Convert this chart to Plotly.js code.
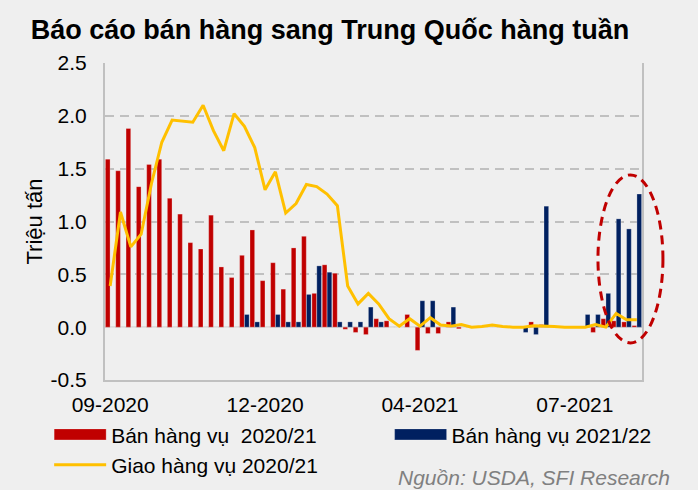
<!DOCTYPE html>
<html>
<head>
<meta charset="utf-8">
<script src="https://cdn.plot.ly/plotly-3.0.1.min.js"></script>
<style>html,body{margin:0;padding:0;background:#efefef;}</style>
</head>
<body>
<div id="chart" style="width:698px;height:490px;"></div>
<script>
// Weekly reporting dates (week ending), Sep 2020 - Aug 2021
var weeks = [
  '2020-09-03','2020-09-10','2020-09-17','2020-09-24','2020-10-01','2020-10-08','2020-10-15','2020-10-22','2020-10-29',
  '2020-11-05','2020-11-12','2020-11-19','2020-11-26','2020-12-03','2020-12-10','2020-12-17','2020-12-24','2020-12-31',
  '2021-01-07','2021-01-14','2021-01-21','2021-01-28','2021-02-04','2021-02-11','2021-02-18','2021-02-25',
  '2021-03-04','2021-03-11','2021-03-18','2021-03-25','2021-04-01','2021-04-08','2021-04-15','2021-04-22','2021-04-29',
  '2021-05-06','2021-05-13','2021-05-20','2021-05-27','2021-06-03','2021-06-10','2021-06-17','2021-06-24',
  '2021-07-01','2021-07-08','2021-07-15','2021-07-22','2021-07-29','2021-08-05','2021-08-12','2021-08-19','2021-08-26'
];
var tickWeeks = ['2020-09-03','2020-12-17','2021-04-01','2021-07-15'];
var tickLabels = ['09-2020','12-2020','04-2021','07-2021'];
var yTickVals = [-0.5, 0, 0.5, 1, 1.5, 2, 2.5];
var yTickLabels = ['-0.5','0.0','0.5','1.0','1.5','2.0','2.5'];

// Bán hàng vụ 2020/21 (triệu tấn)
var sales2021 = [
  1.59,1.48,1.88,1.33,1.54,1.59,1.22,1.07,0.80,0.74,1.06,0.57,0.47,0.68,0.92,0.44,0.61,0.36,0.75,0.86,
  0.32,0.59,0.51,-0.02,-0.05,-0.07,0.08,0.06,0,0.12,-0.22,-0.06,-0.06,0.05,-0.015,0,0,0,0,0,
  0,0.05,0.025,0,0,0,0,-0.05,0.08,0.06,0.05,0.015
];
// Bán hàng vụ 2021/22 (triệu tấn)
var sales2122 = [
  0,0,0,0,0,0,0,0,0,0,0,0,0,0.12,0.05,0,0.12,0.05,0.05,0.31,
  0.58,0.52,0.05,0.05,0.05,0.19,0.05,0,0,0,0.25,0.25,0,0.19,0,0,0,0,0,0,
  -0.05,-0.07,1.145,0,0,0,0.12,0.12,0.32,1.025,0.93,1.26
];
// Giao hàng vụ 2020/21 (triệu tấn)
var shipments2021 = [
  0.39,1.09,0.76,0.88,1.36,1.75,1.96,1.95,1.94,2.10,1.86,1.67,2.02,1.90,1.70,1.30,1.47,1.08,1.17,1.35,
  1.33,1.26,1.15,0.39,0.22,0.32,0.22,0.08,0.01,0.08,0.01,0.09,0.02,0.01,0.025,0.0,0.006,0.02,0.006,0.0,
  0.0,0.013,0.013,0.006,0.0,0.0,0.0,0.025,0.0,0.13,0.07,0.07
];

var FONT = 'Liberation Sans, Arial, sans-serif';
var RED = '#C00000', NAVY = '#002060', GOLD = '#FFC000';

var traces = [
  {type:'bar', name:'Bán hàng vụ  2020/21', x:weeks, y:sales2021,
   marker:{color:RED, line:{color:'rgba(255,255,255,0.5)', width:0.5}}, legend:'legend'},
  {type:'bar', name:'Bán hàng vụ 2021/22', x:weeks, y:sales2122,
   marker:{color:NAVY, line:{color:'rgba(255,255,255,0.5)', width:0.5}}, legend:'legend2'},
  {type:'scatter', mode:'lines', name:'Giao hàng vụ 2020/21', x:weeks, y:shipments2021,
   line:{color:GOLD, width:3}, legend:'legend'}
];

var layout = {
  width:698, height:490,
  paper_bgcolor:'#efefef', plot_bgcolor:'#efefef',
  margin:{l:105, r:56, t:63, b:110, autoexpand:false},
  font:{family:FONT, size:21, color:'#000'},
  title:{text:'Báo cáo bán hàng sang Trung Quốc hàng tuần', xref:'container', x:0.044, xanchor:'left',
         yref:'container', y:0.94, yanchor:'middle', font:{family:FONT, size:27, weight:'bold', color:'#000'}},
  barmode:'group', bargap:0.06, bargroupgap:0.04,
  showlegend:true,
  xaxis:{type:'category', range:[-0.5, 51.5], tickmode:'array', tickvals:tickWeeks, ticktext:tickLabels,
         showgrid:false, zeroline:false, showline:true, linecolor:'#c0c0c0', linewidth:2,
         ticks:'', ticklabelstandoff:5, tickfont:{family:FONT, size:21, color:'#000'}},
  yaxis:{range:[-0.5, 2.5], tickmode:'array', tickvals:yTickVals, ticktext:yTickLabels,
         showgrid:true, gridcolor:'#c0c0c0', gridwidth:2,
         griddash:'9px,6px', zeroline:true, zerolinecolor:'#d6d6d6', zerolinewidth:2,
         showline:true, mirror:true, linecolor:'#c0c0c0', linewidth:2, ticks:'', ticklabelstandoff:12,
         tickfont:{family:FONT, size:21, color:'#000'}, automargin:true,
         title:{text:'Triệu tấn', standoff:2, font:{family:FONT, size:22, color:'#000'}}},
  legend:{x:-0.104, xanchor:'left', y:-0.108, yanchor:'top', orientation:'v',
          bgcolor:'rgba(0,0,0,0)', itemwidth:52, font:{family:FONT, size:21, color:'#000'}, tracegroupgap:0},
  legend2:{x:0.53, xanchor:'left', y:-0.108, yanchor:'top', orientation:'v',
          bgcolor:'rgba(0,0,0,0)', itemwidth:52, font:{family:FONT, size:21, color:'#000'}},
  shapes:[{type:'circle', xref:'paper', yref:'paper', x0:0.918, x1:1.039, y0:0.117, y1:0.647,
           line:{color:RED, width:3, dash:'9px,6px'}, layer:'above'}],
  annotations:[{text:'Nguồn: USDA, SFI Research', xref:'paper', yref:'paper', x:1.056, xanchor:'right',
                y:-0.309, yanchor:'middle', showarrow:false,
                font:{family:FONT, size:21, color:'#808080', style:'italic'}}]
};

function widenBarSwatches(){
  var paths = document.querySelectorAll('g.legendpoints path');
  paths.forEach(function(p){
    var d = p.getAttribute('d') || '';
    if (d.indexOf('M6,6H-6V-6H6Z') === 0) {
      p.setAttribute('d', 'M26,5.5H-26V-5.5H26Z');
    }
  });
}

var gd = document.getElementById('chart');
Plotly.newPlot(gd, traces, layout, {displayModeBar:false, staticPlot:true}).then(function(){
  widenBarSwatches();
  gd.on('plotly_afterplot', widenBarSwatches);
});
</script>
</body>
</html>
